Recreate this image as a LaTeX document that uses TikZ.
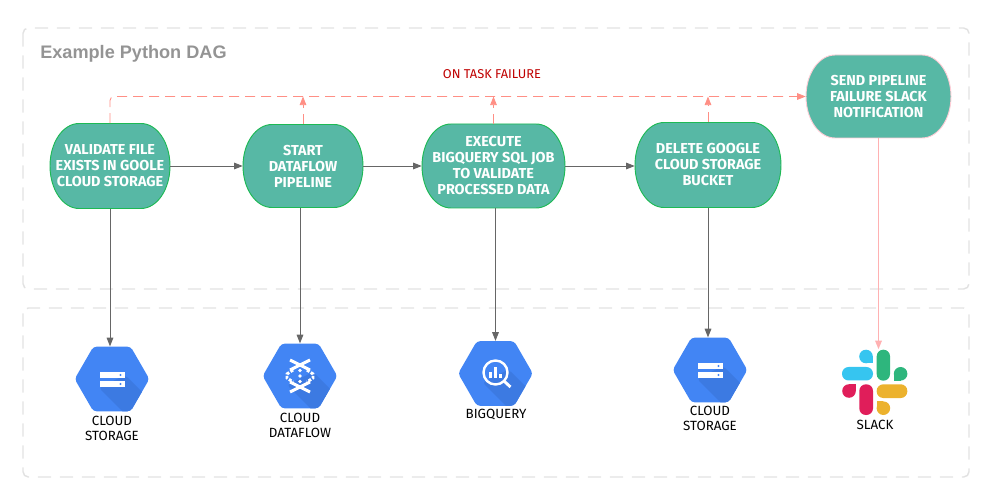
\documentclass[tikz,border=0pt]{standalone}
\usepackage{fontspec}
\usetikzlibrary{arrows.meta,shapes.geometric}
\setmainfont{Liberation Sans}
\newfontfamily\handfont{Fira Sans}
\definecolor{taskfill}{HTML}{57B8A5}
\definecolor{taskedge}{HTML}{1DB954}
\definecolor{sendedge}{HTML}{FFCDD6}
\definecolor{grouplineclr}{HTML}{E2E2E2}
\definecolor{failclr}{HTML}{FF8F85}
\definecolor{gcpblue}{HTML}{4285F4}
\definecolor{gcpshade}{HTML}{3C7AE2}
\definecolor{slackblue}{HTML}{36C5F0}
\definecolor{slackgreen}{HTML}{2EB67D}
\definecolor{slackred}{HTML}{E01E5A}
\definecolor{slackyellow}{HTML}{ECB22E}
\tikzset{
  grouparea/.style={draw=grouplineclr,line width=1.1pt,rounded corners=4pt,dash pattern=on 10pt off 6.5pt},
  tasktext/.style={text=white,align=center,inner sep=0pt,font=\handfont\bfseries\fontsize{10.8}{12}\selectfont},
  icontext/.style={align=center,inner sep=0pt,font=\handfont\fontsize{10}{11.5}\selectfont},
  flowline/.style={draw=black!60,line width=.65pt,-{Triangle[length=6.5pt,width=5pt]}},
  failline/.style={draw=failclr,line width=.65pt,dash pattern=on 7.5pt off 4.5pt,-{Triangle[length=6.5pt,width=5pt]}},
  sendline/.style={draw=sendedge!55!failclr,line width=1pt,-{Triangle[length=6.5pt,width=5pt]}},
  hexicon/.style={regular polygon,regular polygon sides=6,minimum size=56pt,inner sep=0pt,fill=gcpblue,rounded corners=2.5pt,
    path picture={\fill[gcpshade,shift={(path picture bounding box.center)}] (13,-4) -- (-13,9) -- (20,42) -- (50,42) -- (50,33) -- cycle;}}
}
% name, x, y, width, height, text, edge colour
\newcommand{\taskbox}[7]{
\draw[fill=taskfill,draw=#7,line width=.7pt] ({#2-#4/2},#3)
  arc[start angle=180,end angle=270,x radius=29,y radius=#5/2] -- ({#2+#4/2-29},{#3-#5/2})
  arc[start angle=270,end angle=360,x radius=29,y radius=#5/2]
  arc[start angle=0,end angle=90,x radius=29,y radius=#5/2] -- ({#2-#4/2+29},{#3+#5/2})
  arc[start angle=90,end angle=180,x radius=29,y radius=#5/2] -- cycle;
\node[tasktext,minimum width=#4*.75pt,minimum height=#5*.75pt] (#1) at (#2,#3) {#6};
}
\newcommand{\storageicon}[1]{
\begin{scope}[shift={(#1.center)}]
\fill[white] (-12,-7) rectangle (13,-1);
\fill[white] (-12,2) rectangle (13,8);
\fill[gcpblue] (8.5,-4) circle[radius=1.1];
\fill[gcpblue] (8.5,5) circle[radius=1.1];
\end{scope}
}
\begin{document}
\begin{tikzpicture}[x=.75pt,y=-.75pt]
\useasboundingbox (0,0) rectangle (1000,502);
\draw[grouparea] (23,28) rectangle (969,289);
\draw[grouparea] (23,308) rectangle (969,477);
\node[anchor=west,inner sep=0pt,text=black!42,font=\bfseries\fontsize{13.6}{16}\selectfont] (dagtitle) at (40,54) {Example Python DAG};
\node[inner sep=0pt,text=red!75!black,font=\handfont\fontsize{9.6}{11}\selectfont] (failtext) at (492,74) {ON TASK FAILURE};

\taskbox{validate}{110}{166}{120}{85}{VALIDATE FILE\\EXISTS IN GOOLE\\CLOUD STORAGE}{taskedge}
\taskbox{startflow}{303}{166}{120}{83}{START\\DATAFLOW\\PIPELINE}{taskedge}
\taskbox{execute}{493.5}{166}{143}{84}{EXECUTE\\BIGQUERY SQL JOB\\TO VALIDATE\\PROCESSED DATA}{taskedge}
\taskbox{delete}{708}{165}{146}{85}{DELETE GOOGLE\\CLOUD STORAGE\\BUCKET}{taskedge}
\taskbox{send}{878.5}{96.5}{145}{83}{SEND PIPELINE\\FAILURE SLACK\\NOTIFICATION}{sendedge}

\node[hexicon] (hexstore) at (112,379) {};
\storageicon{hexstore}
\node[hexicon] (hexflow) at (300,376) {};
\begin{scope}[shift={(hexflow.center)},white]
\draw[line width=2.2pt] (-10,-16) -- (10,-6);
\draw[line width=2.2pt] (10,-16) -- (-10,-6);
\draw[line width=2.2pt] (-10,16) -- (10,6);
\draw[line width=2.2pt] (10,16) -- (-10,6);
\draw[line width=2.2pt,dash pattern=on 2.2pt off 1.2pt] (-7,-6) -- (-13,-2) -- (-13,2) -- (-7,6);
\draw[line width=2.2pt,dash pattern=on 2.2pt off 1.2pt] (7,-6) -- (13,-2) -- (13,2) -- (7,6);
\fill (0,-5.5) circle[radius=1.8];
\fill (0,0) circle[radius=1.8];
\fill (0,5.5) circle[radius=1.8];
\end{scope}
\node[hexicon] (hexquery) at (495.5,373.5) {};
\begin{scope}[shift={(hexquery.center)},white]
\draw[line width=1.8pt] (0,-1) circle[radius=12];
\draw[line width=2.2pt] (9,8) -- (15,13.5);
\fill (-6.5,-1) rectangle (-3.8,5);
\fill (-1.4,-6.5) rectangle (1.4,5);
\fill (3.8,1) rectangle (6.5,5);
\end{scope}
\node[hexicon] (hexbucket) at (710,370) {};
\storageicon{hexbucket}

\node[minimum size=48.75pt,inner sep=0pt] (slackicon) at (875,382) {};
\fill[slackblue,rounded corners=4.9pt] (842,367) rectangle (873,380.5);
\fill[slackblue] (866,356.5) circle[radius=6.8];
\fill[slackblue] (866,356.5) rectangle (873,363.3);
\fill[slackgreen,rounded corners=4.9pt] (876.7,349.7) rectangle (890,380.7);
\fill[slackgreen] (900.6,373.8) circle[radius=6.8];
\fill[slackgreen] (894,373.8) rectangle (900.6,380.7);
\fill[slackred] (849,391) circle[radius=6.8];
\fill[slackred] (849,384.3) rectangle (855.7,391);
\fill[slackred,rounded corners=4.9pt] (859.3,384.3) rectangle (873,415);
\fill[slackyellow,rounded corners=4.9pt] (876.7,384.3) rectangle (907.3,398);
\fill[slackyellow] (883.4,408.2) circle[radius=6.8];
\fill[slackyellow] (876.7,401.4) rectangle (883.4,408.2);

\node[icontext] (storelabel) at (112,428.5) {CLOUD\\STORAGE};
\node[icontext] (flowlabel) at (300,425.5) {CLOUD\\DATAFLOW};
\node[icontext] (querylabel) at (496,415) {BIGQUERY};
\node[icontext] (bucketlabel) at (710,418.5) {CLOUD\\STORAGE};
\node[icontext] (slacklabel) at (875,425) {SLACK};

\draw[flowline] (validate.east) -- (startflow.west);
\draw[flowline] (startflow.east) -- (execute.west);
\draw[flowline] (execute.east) -- (delete.west |- execute.east);
\draw[flowline] (validate.south) -- (validate.south |- hexstore.north);
\draw[flowline] (startflow.south -| hexflow.north) -- (hexflow.north);
\draw[flowline] (execute.south -| hexquery.north) -- (hexquery.north);
\draw[flowline] (delete.south) -- (delete.south |- hexbucket.north);
\draw[sendline] (send.south) -- (send.south |- slackicon.north);

\draw[failline,rounded corners=3pt] (validate.north) |- (send.west);
\draw[failline] (startflow.north) -- (startflow.north |- send.west);
\draw[failline] (execute.north) -- (execute.north |- send.west);
\draw[failline] (delete.north) -- (delete.north |- send.west);
\end{tikzpicture}
\end{document}
